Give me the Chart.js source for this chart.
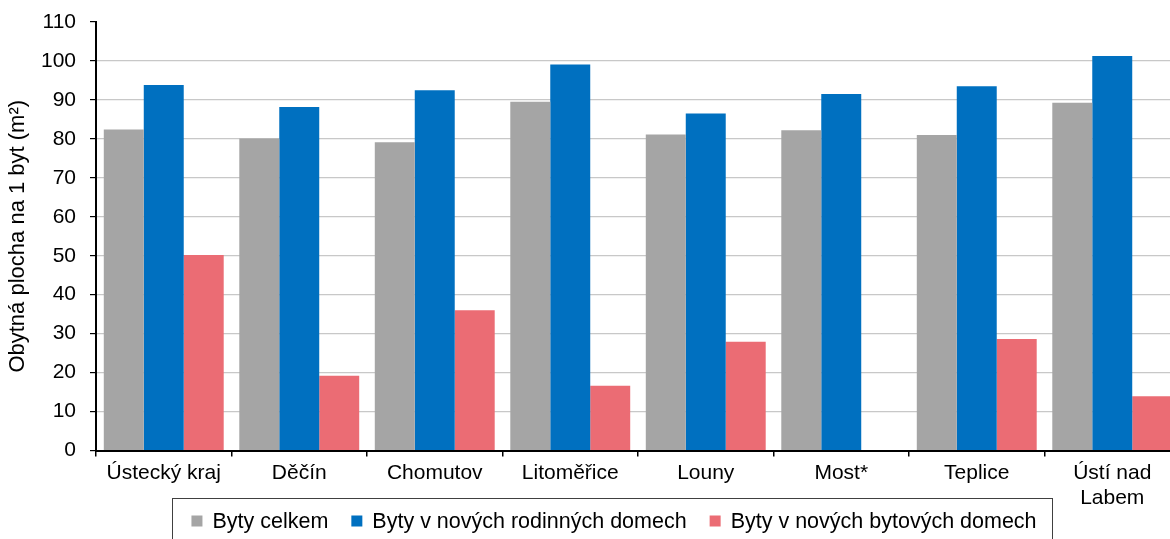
<!DOCTYPE html>
<html lang="cs">
<head>
<meta charset="utf-8">
<title>Obytná plocha na 1 byt</title>
<script src="https://cdn.jsdelivr.net/npm/chart.js@4/dist/chart.umd.min.js"></script>
<style>
  html, body { margin: 0; padding: 0; background: #fff; overflow: hidden; }
  #wrap { width: 1182px; height: 539px; }
</style>
</head>
<body>
<div id="wrap"><canvas id="c" width="1182" height="539"></canvas></div>
<script>
// Okresy Ústeckého kraje
const categories = ['Ústecký kraj', 'Děčín', 'Chomutov', 'Litoměřice', 'Louny', 'Most*', 'Teplice', ['Ústí nad', 'Labem']];

// Průměrná obytná plocha na 1 byt (m²)
const bytyCelkem      = [82.4, 80.1, 79.1, 89.5, 81.1, 82.2, 81.0, 89.3];
const rodinneDomy     = [93.8, 88.2, 92.5, 99.1, 86.5, 91.5, 93.5, 101.3];
const bytoveDomy      = [50.2, 19.2, 36.0, 16.6, 27.9, null, 28.6, 13.9];

const seriesNames = ['Byty celkem', 'Byty v nových rodinných domech', 'Byty v nových bytových domech'];
const seriesColors = ['#a5a5a5', '#0070c0', '#eb6c74'];

const yMin = 0, yMax = 110, yStep = 10;

const FONT = '"Liberation Sans", Arial, Helvetica, sans-serif';
Chart.defaults.font.family = FONT;
Chart.defaults.font.size = 21;
Chart.defaults.color = '#000';

// Legenda v rámečku pod grafem
const boxedLegend = {
  id: 'boxedLegend',
  afterDraw(chart) {
    const ctx = chart.ctx;
    const box = { left: 172, right: 1052, top: 498 };
    const midY = 521;
    const sq = 11, gapText = 10, gapItem = 23;
    ctx.save();
    ctx.font = '21.5px ' + FONT;
    ctx.strokeStyle = '#404040';
    ctx.lineWidth = 1;
    ctx.strokeRect(box.left + 0.5, box.top + 0.5, box.right - box.left, 80);
    const ds = chart.data.datasets;
    const widths = ds.map(d => ctx.measureText(d.label).width);
    let total = 0;
    widths.forEach((w, i) => { total += sq + gapText + w + (i < ds.length - 1 ? gapItem : 0); });
    let x = (box.left + box.right) / 2 - total / 2 + 2;
    ctx.textBaseline = 'middle';
    ctx.textAlign = 'left';
    ds.forEach((d, i) => {
      ctx.fillStyle = d.backgroundColor;
      ctx.fillRect(x, midY - sq / 2, sq, sq);
      x += sq + gapText;
      ctx.fillStyle = '#000';
      ctx.fillText(d.label, x, midY + 1);
      x += widths[i] + gapItem;
    });
    ctx.restore();
  }
};

const datasets = [bytyCelkem, rodinneDomy, bytoveDomy].map((values, i) => ({
  label: seriesNames[i],
  data: values,
  backgroundColor: seriesColors[i],
  borderWidth: 0,
  barPercentage: 1.0,
  categoryPercentage: 0.885
}));

new Chart(document.getElementById('c'), {
  type: 'bar',
  data: { labels: categories, datasets },
  options: {
    responsive: false,
    animation: false,
    layout: { padding: { top: 0, right: 2, bottom: 0, left: 0 } },
    plugins: {
      legend: { display: false },
      tooltip: { enabled: false }
    },
    scales: {
      x: {
        afterFit(scale) { scale.height = 88.5; },
        grid: {
          offset: true,
          drawOnChartArea: false,
          color: '#000',
          tickColor: '#000',
          tickLength: 6,
          lineWidth: 1.5
        },
        border: { color: '#000', width: 2 },
        ticks: {
          padding: 4,
          maxRotation: 0,
          autoSkip: false,
          font: { size: 21, lineHeight: 1.2 }
        }
      },
      y: {
        min: yMin,
        max: yMax,
        afterFit(scale) {
          scale.width = 96;
          scale.paddingTop = 22;
          scale.paddingBottom = 0;
        },
        grid: {
          color: ctx => (ctx.tick && ctx.tick.value === yMax) ? 'rgba(0,0,0,0)' : '#c8c8c8',
          tickColor: '#000',
          tickLength: 6,
          lineWidth: 1.2
        },
        border: { color: '#000', width: 2 },
        ticks: {
          stepSize: yStep,
          padding: 14,
          font: { size: 21 }
        },
        title: {
          display: true,
          text: 'Obytná plocha na 1 byt (m²)',
          font: { size: 22 },
          padding: { top: 5, bottom: 0 }
        }
      }
    }
  },
  plugins: [boxedLegend]
});
</script>
</body>
</html>
